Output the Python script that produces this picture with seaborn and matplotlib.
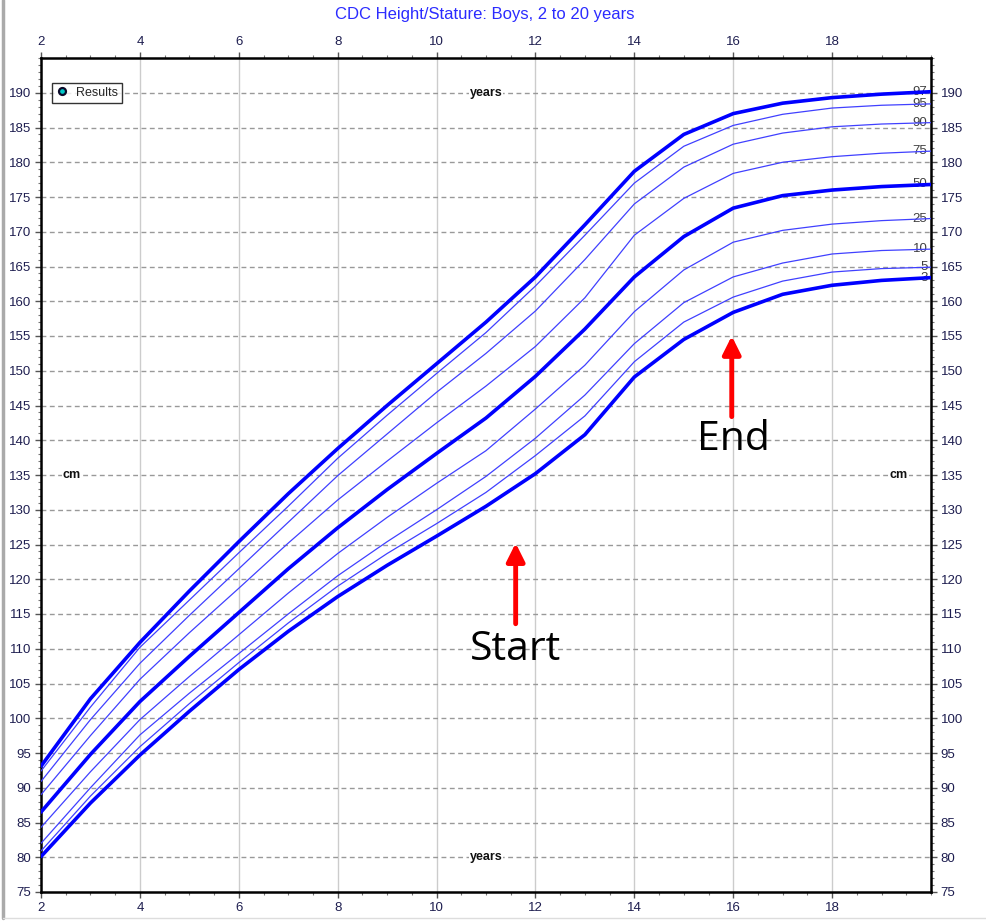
import numpy as np
import pandas as pd
import matplotlib
matplotlib.use("Agg")
import matplotlib.pyplot as plt
from matplotlib.lines import Line2D
from matplotlib.ticker import MultipleLocator
import seaborn as sns

# ---- data ----
ages = [2, 3, 4, 5, 6, 7, 8, 9, 10, 11, 12, 13, 14, 15, 16, 17, 18, 19, 20]
p3  = [80.1, 87.8, 94.7, 101.0, 107.0, 112.5, 117.5, 122.0, 126.2, 130.5, 135.2, 140.8, 149.1, 154.5, 158.4, 161.0, 162.3, 163.0, 163.4]
p5  = [80.9, 88.8, 95.9, 102.1, 108.0, 113.7, 119.0, 123.7, 128.0, 132.5, 137.8, 143.5, 151.3, 157.0, 160.6, 162.9, 164.2, 164.7, 164.9]
p10 = [82.0, 90.0, 97.6, 103.6, 109.3, 115.0, 120.5, 125.4, 130.0, 134.8, 140.3, 146.5, 153.9, 159.8, 163.5, 165.5, 166.8, 167.3, 167.5]
p25 = [84.3, 92.3, 99.8, 106.0, 112.0, 118.0, 123.7, 128.9, 133.8, 138.5, 144.5, 150.8, 158.5, 164.5, 168.5, 170.2, 171.1, 171.6, 171.9]
p50 = [86.5, 94.8, 102.4, 108.9, 115.2, 121.5, 127.4, 132.9, 138.1, 143.2, 149.2, 156.0, 163.5, 169.3, 173.4, 175.2, 176.0, 176.5, 176.8]
p75 = [89.0, 97.5, 105.6, 112.3, 118.7, 125.2, 131.4, 137.0, 142.5, 147.8, 153.5, 160.5, 169.5, 174.8, 178.4, 180.0, 180.8, 181.3, 181.6]
p90 = [90.9, 99.8, 107.9, 114.8, 121.5, 128.2, 134.9, 140.9, 146.9, 152.5, 158.6, 166.0, 174.0, 179.3, 182.6, 184.2, 185.1, 185.5, 185.7]
p95 = [92.4, 101.6, 110.2, 117.0, 123.8, 130.5, 137.4, 143.6, 149.6, 155.5, 162.2, 169.5, 177.0, 182.3, 185.3, 186.9, 187.8, 188.2, 188.4]
p97 = [93.1, 102.8, 110.9, 118.3, 125.4, 132.3, 138.8, 145.0, 151.0, 157.0, 163.5, 171.0, 178.7, 184.0, 187.0, 188.5, 189.3, 189.8, 190.15]

percentiles = ["3", "5", "10", "25", "50", "75", "90", "95", "97"]
series = [p3, p5, p10, p25, p50, p75, p90, p95, p97]
thick = {"3", "50", "97"}

x_ticks = [2, 4, 6, 8, 10, 12, 14, 16, 18]
y_ticks = list(range(75, 195, 5))

title = "CDC Height/Stature: Boys, 2 to 20 years"

frames = []
for p, vals in zip(percentiles, series):
    frames.append(pd.DataFrame({"age": ages, "height": vals, "pct": p}))
df = pd.concat(frames, ignore_index=True)

# ---- figure ----
sns.set_theme(style="white")
plt.rcParams["font.family"] = ["Liberation Sans", "DejaVu Sans"]

fig = plt.figure(figsize=(9.86, 9.23), dpi=100)
ax = fig.add_axes([41 / 986, 1 - 892 / 923, 890 / 986, 834 / 923])

for p in percentiles:
    sub = df[df["pct"] == p]
    sns.lineplot(data=sub, x="age", y="height", ax=ax,
                 color="#0000ff" if p in thick else "#4040ff",
                 linewidth=2.6 if p in thick else 0.9,
                 zorder=4, legend=False)
    ax.text(19.93, sub["height"].iloc[-1], p, ha="right", va="center",
            fontsize=9.5, color="#404040", zorder=3)

ax.set_xlim(2, 20)
ax.set_ylim(75, 195)
ax.set_xlabel("")
ax.set_ylabel("")

ax.set_xticks(x_ticks)
ax.set_yticks(y_ticks)
ax.xaxis.set_minor_locator(MultipleLocator(0.5))
ax.yaxis.set_minor_locator(MultipleLocator(1))

ax.tick_params(axis="both", which="major", direction="out", length=4, width=1,
               color="#555555", labelsize=9.5, labelcolor="#1e1e50",
               top=True, bottom=True, left=True, right=True,
               labeltop=True, labelbottom=True, labelleft=True, labelright=True, pad=3)
ax.tick_params(axis="both", which="minor", direction="out", length=2.5, width=0.8,
               color="#777777", top=True, bottom=True, left=True, right=True)

# grids
for xv in x_ticks:
    ax.axvline(xv, color="#cccccc", linewidth=1.0, zorder=1)
for yv in y_ticks[1:]:
    ax.axhline(yv, color="#999999", linewidth=1.0, linestyle=(0, (3.5, 2.5)), zorder=1)

for s in ax.spines.values():
    s.set_color("black")
    s.set_linewidth(1.8)
    s.set_visible(True)

# axis word labels
for (xx, yy, t) in [(11.0, 190, "years"), (11.0, 80, "years"), (2.62, 135, "cm"), (19.35, 135, "cm")]:
    ax.text(xx, yy, t, ha="center", va="center", fontsize=9, fontweight="bold",
            color="#111111", zorder=5,
            bbox=dict(facecolor="white", edgecolor="none", pad=0.5))

# legend
h = Line2D([], [], marker="o", linestyle="none", markersize=5,
           markerfacecolor="#00c8c8", markeredgecolor="#0a0a2a", markeredgewidth=1.6)
leg = ax.legend([h], ["Results"], loc="upper left", bbox_to_anchor=(0.0125, 0.97),
                borderaxespad=0, frameon=True, fancybox=False, fontsize=9,
                handlelength=1.0, handletextpad=0.6, borderpad=0.3)
leg.get_frame().set_edgecolor("black")
leg.get_frame().set_linewidth(1.0)

fig.text(0.492, 1 - 14 / 923, title, ha="center", va="center", fontsize=12, color="#2b2bff")

# annotation arrows
ax.annotate("", xy=(11.6, 125.6), xytext=(11.6, 113.2),
            arrowprops=dict(arrowstyle="-|>,head_length=0.9,head_width=0.45", color="#ff0000", lw=3.5),
            zorder=6)
ax.text(11.6, 109.8, "Start", ha="center", va="center", fontsize=29.5, color="black",
        family=["Open Sans", "DejaVu Sans"], zorder=6)
ax.annotate("", xy=(15.97, 155.4), xytext=(15.97, 143.0),
            arrowprops=dict(arrowstyle="-|>,head_length=0.9,head_width=0.45", color="#ff0000", lw=3.5),
            zorder=6)
ax.text(16.0, 140.0, "End", ha="center", va="center", fontsize=29.5, color="black",
        family=["Open Sans", "DejaVu Sans"], zorder=6)

# window frame lines
fig.add_artist(Line2D([3 / 986, 3 / 986], [1 - 918 / 923, 1.0], color="#aaaaaa", lw=2.5))
fig.add_artist(Line2D([3 / 986, 1.0], [1 - 918 / 923, 1 - 918 / 923], color="#dddddd", lw=1))

fig.savefig("out.png", dpi=100)
